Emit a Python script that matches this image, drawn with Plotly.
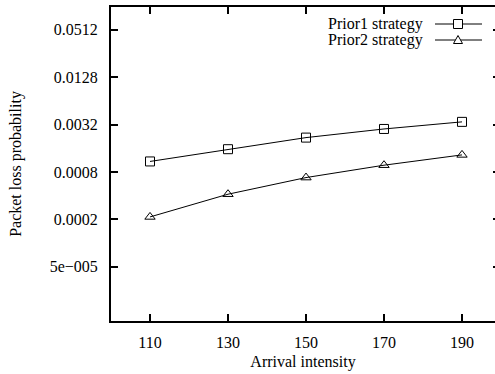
import plotly.graph_objects as go

arrival = [110, 130, 150, 170, 190]
prior1 = [0.00109, 0.00156, 0.00219, 0.00282, 0.00347]
prior2 = [0.000215, 0.000418, 0.00068, 0.000977, 0.00132]
ytick_vals = [5e-5, 0.0002, 0.0008, 0.0032, 0.0128, 0.0512]
ytick_text = ["5e\u2212005", "0.0002", "0.0008", "0.0032", "0.0128", "0.0512"]
names = ["Prior1 strategy", "Prior2 strategy"]

FONT = "Liberation Serif, Times New Roman, serif"
W, H = 495, 374
L, R, T, B = 111, 0, 7, 53
YRANGE = [-4.99, -1.0]

fig = go.Figure()
fig.add_trace(go.Scatter(x=arrival, y=prior1, mode="lines+markers", name=names[0],
                         line=dict(color="black", width=1),
                         marker=dict(symbol="square-open", size=9, color="black", line=dict(width=1))))
fig.add_trace(go.Scatter(x=arrival, y=prior2, mode="lines+markers", name=names[1],
                         line=dict(color="black", width=1),
                         marker=dict(symbol="triangle-up-open", size=9, color="black", line=dict(width=1))))
# invisible trace to activate right-hand tick axis
fig.add_trace(go.Scatter(x=arrival, y=prior1, yaxis="y2", mode="none", hoverinfo="skip", showlegend=False))

# manual legend (text left of sample, as in the reference)
pw = W - L - R
ph = H - T - B
legend_rows = [24, 40]
text_right = (425 - L) / pw
sample_x = (458 - L) / pw
for i, name in enumerate(names):
    yp = (H - B - legend_rows[i]) / ph
    fig.add_annotation(x=text_right, y=yp, xref="paper", yref="paper", text=name,
                       showarrow=False, xanchor="right", yanchor="middle",
                       font=dict(family=FONT, size=16, color="black"))
    fig.add_shape(type="line", xref="paper", yref="paper", xsizemode="pixel", ysizemode="pixel",
                  xanchor=sample_x, yanchor=yp, x0=-23, x1=24, y0=0, y1=0,
                  line=dict(color="black", width=1))
    if i == 0:
        fig.add_shape(type="rect", xref="paper", yref="paper", xsizemode="pixel", ysizemode="pixel",
                      xanchor=sample_x, yanchor=yp, x0=-4.5, x1=4.5, y0=-4.5, y1=4.5,
                      line=dict(color="black", width=1), fillcolor="white")
    else:
        fig.add_shape(type="path", xref="paper", yref="paper", xsizemode="pixel", ysizemode="pixel",
                      xanchor=sample_x, yanchor=yp, path="M -4.5 -3.5 L 4.5 -3.5 L 0 4.5 Z",
                      line=dict(color="black", width=1), fillcolor="white")

fig.update_layout(
    width=W, height=H,
    margin=dict(l=L, r=R, t=T, b=B, pad=0),
    paper_bgcolor="white", plot_bgcolor="white",
    showlegend=False,
    font=dict(family=FONT, size=16, color="black"),
    xaxis=dict(range=[100, 100 + pw / 3.9], tickvals=arrival, ticks="inside", ticklen=7,
               tickwidth=1.5, tickcolor="black", showline=True, linewidth=2, linecolor="black",
               mirror="ticks", showgrid=False, zeroline=False, ticklabelstandoff=6,
               title=dict(text="Arrival intensity", standoff=6, font=dict(size=16))),
    yaxis=dict(type="log", range=YRANGE, tickvals=ytick_vals, ticktext=ytick_text,
               ticks="inside", ticklen=7, tickwidth=1.5, tickcolor="black",
               showline=True, linewidth=2, linecolor="black", mirror=False,
               showgrid=False, zeroline=False, ticklabelstandoff=8,
               title=dict(text="Packet loss probability", standoff=24, font=dict(size=16))),
    yaxis2=dict(type="log", range=YRANGE, tickvals=ytick_vals, overlaying="y", side="right",
                ticks="inside", ticklen=2, tickwidth=1.5, tickcolor="black", showline=False,
                showticklabels=False, showgrid=False, zeroline=False),
)

fig.write_html("out.html")
